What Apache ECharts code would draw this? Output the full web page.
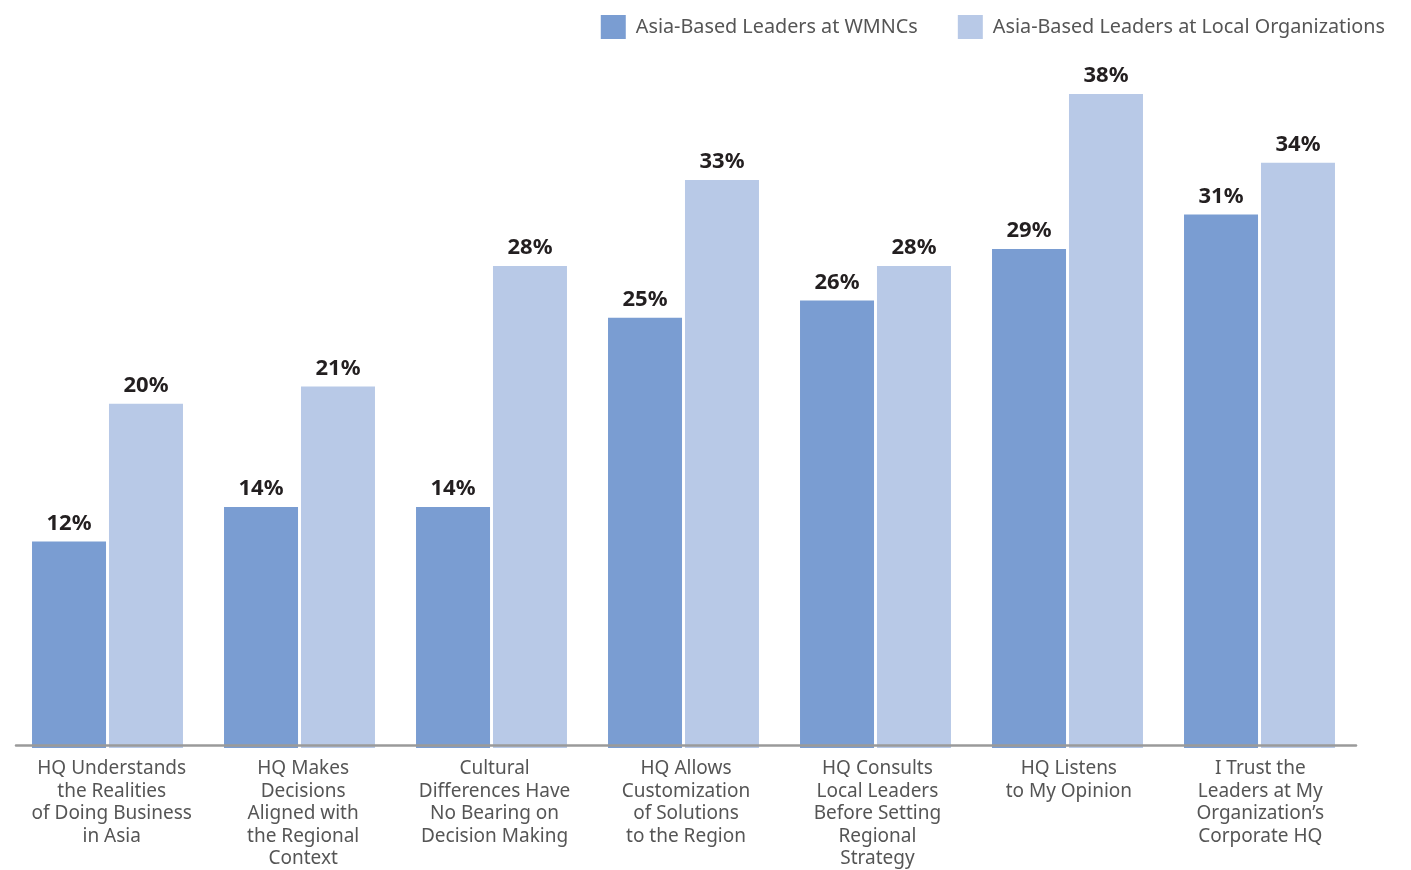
<!DOCTYPE html>
<html>
<head>
<meta charset="utf-8">
<script src="https://cdn.jsdelivr.net/npm/echarts@6/dist/echarts.min.js"></script>
<style>
  html, body { margin: 0; padding: 0; background: #fff; }
  #chart { width: 1411px; height: 870px; }
</style>
</head>
<body>
<div id="chart"></div>
<script>
// Survey statements shown along the x axis
const categories = [
  'HQ Understands\nthe Realities\nof Doing Business\nin Asia',
  'HQ Makes\nDecisions\nAligned with\nthe Regional\nContext',
  'Cultural\nDifferences Have\nNo Bearing on\nDecision Making',
  'HQ Allows\nCustomization\nof Solutions\nto the Region',
  'HQ Consults\nLocal Leaders\nBefore Setting\nRegional\nStrategy',
  'HQ Listens\nto My Opinion',
  'I Trust the\nLeaders at My\nOrganization\u2019s\nCorporate HQ'
];

const seriesNames = ['Asia-Based Leaders at WMNCs', 'Asia-Based Leaders at Local Organizations'];

// Share of respondents agreeing (%)
const wmncValues = [12, 14, 14, 25, 26, 29, 31];
const localValues = [20, 21, 28, 33, 28, 38, 34];

const FONT = '"Noto Sans", sans-serif';

const chart = echarts.init(document.getElementById('chart'));

const labelStyle = {
  show: true,
  position: 'top',
  distance: 7,
  formatter: '{c}%',
  fontFamily: FONT,
  fontSize: 22,
  fontWeight: 'bold',
  color: '#231f20'
};

chart.setOption({
  animation: false,
  legend: {
    right: 21,
    top: 10,
    itemWidth: 25,
    itemHeight: 24,
    itemGap: 40,
    icon: 'rect',
    textStyle: { fontFamily: FONT, fontSize: 19.8, color: '#555', padding: [0, 0, 0, 5] },
    data: seriesNames
  },
  // grid 0 holds the bars; grid 1 carries the baseline and category labels
  grid: [
    { left: 11.5, right: 55.5, top: 59.6, bottom: 122, containLabel: false },
    { left: 16, right: 55, top: 59.6, bottom: 122, containLabel: false }
  ],
  xAxis: [
    {
      type: 'category',
      gridIndex: 0,
      data: categories,
      axisTick: { show: false },
      axisLine: { show: false },
      axisLabel: { show: false }
    },
    {
      type: 'category',
      gridIndex: 1,
      data: categories,
      z: 5,
      axisTick: { show: false },
      axisLine: { lineStyle: { color: '#9a9a9a', width: 2.5 } },
      axisLabel: {
        interval: 0,
        margin: 12,
        fontFamily: FONT,
        fontSize: 19,
        lineHeight: 22.5,
        color: '#555'
      }
    }
  ],
  yAxis: [
    { type: 'value', gridIndex: 0, min: 0, max: 40, show: false },
    { type: 'value', gridIndex: 1, min: 0, max: 40, show: false }
  ],
  series: [
    {
      name: seriesNames[0],
      type: 'bar',
      data: wmncValues,
      barWidth: 74,
      barGap: '4%',
      itemStyle: { color: '#7a9dd2' },
      label: labelStyle
    },
    {
      name: seriesNames[1],
      type: 'bar',
      data: localValues,
      barWidth: 74,
      itemStyle: { color: '#b8c9e7' },
      label: labelStyle
    }
  ]
});
</script>
</body>
</html>
